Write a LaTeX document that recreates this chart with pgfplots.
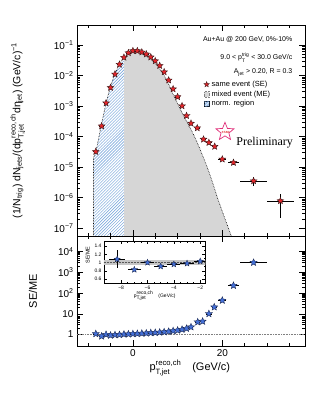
\documentclass[border=0pt]{standalone}
\usepackage{amsmath}
\usepackage{fontspec}
\setmainfont{Liberation Sans}
\newfontfamily\prelimfont{Liberation Serif}
\usepackage{pgfplots}
\pgfplotsset{compat=1.18}
\usepackage{pgfplotstable}
\usetikzlibrary{patterns,shapes.geometric}

\definecolor{seRed}{HTML}{E3262B}
\definecolor{seEdge}{HTML}{3A1A1A}
\definecolor{rBlue}{HTML}{4470D8}
\definecolor{rEdge}{HTML}{1C2A55}
\definecolor{meGray}{HTML}{D6D6D6}
\definecolor{hatchBlue}{HTML}{6A9CD8}
\definecolor{starPink}{HTML}{E0307A}

% filled five-point star
\pgfdeclareplotmark{fstar}{%
  \pgfpathmoveto{\pgfpointpolar{90}{\pgfplotmarksize}}%
  \pgfpathlineto{\pgfpointpolar{126}{0.45\pgfplotmarksize}}%
  \pgfpathlineto{\pgfpointpolar{162}{\pgfplotmarksize}}%
  \pgfpathlineto{\pgfpointpolar{198}{0.45\pgfplotmarksize}}%
  \pgfpathlineto{\pgfpointpolar{234}{\pgfplotmarksize}}%
  \pgfpathlineto{\pgfpointpolar{270}{0.45\pgfplotmarksize}}%
  \pgfpathlineto{\pgfpointpolar{306}{\pgfplotmarksize}}%
  \pgfpathlineto{\pgfpointpolar{342}{0.45\pgfplotmarksize}}%
  \pgfpathlineto{\pgfpointpolar{18}{\pgfplotmarksize}}%
  \pgfpathlineto{\pgfpointpolar{54}{0.45\pgfplotmarksize}}%
  \pgfpathclose
  \pgfusepathqfillstroke}

\newcommand{\ptjet}{\text{p}^{\text{reco,ch}}_{\text{T,jet}}}

% same event spectrum
\pgfplotstableread{
x y ex eyp eym
-8.3 3.2e-5 0.6 0 0
-7 2.2e-4 0.5 0 0
-6 1.25e-3 0.5 0 0
-5 4.0e-3 0.5 0 0
-4 1.1e-2 0.5 0 0
-3 2.3e-2 0.5 0 0
-2 3.9e-2 0.5 0 0
-1 5.5e-2 0.5 0 0
0 6.4e-2 0.5 0 0
1 6.4e-2 0.5 0 0
2 5.8e-2 0.5 0 0
3 5.0e-2 0.5 0 0
4 4.0e-2 0.5 0 0
5 3.0e-2 0.5 0 0
6 2.1e-2 0.5 0 0
7 1.3e-2 0.5 0 0
8 7.0e-3 0.5 0 0
9 3.6e-3 0.5 0 0
10 2.0e-3 0.5 0 0
11 1.0e-3 0.5 0 0
12 4.8e-4 0.5 0 0
13 2.7e-4 0.5 0 0
14.4 1.9e-4 0.6 0 0
15.8 8.1e-5 0.6 0 0
17 6.3e-5 0.6 0 0
18.3 4.7e-5 0.6 0 0
20 1.8e-5 0.9 2e-6 2e-6
22.5 1.4e-5 1.25 2e-6 2e-6
27 3.5e-6 3 1.1e-6 1.1e-6
33 7.8e-7 3.1 4.8e-7 5.7e-7
}\se

% mixed event spectrum (edge of the grey area)
\pgfplotstableread{
x y
-8.8 1e-9
-8.8 2e-5
-8.3 3.0e-5
-7 2.6e-4
-6 1.25e-3
-5 4.4e-3
-4 1.15e-2
-3 2.35e-2
-2 3.8e-2
-1 5.2e-2
0 5.8e-2
1 5.8e-2
2 5.1e-2
3 4.3e-2
4 3.4e-2
5 2.5e-2
6 1.65e-2
7 1.0e-2
8 5.2e-3
9 2.4e-3
10 1.2e-3
11 6.0e-4
12 3.2e-4
13 1.7e-4
14 8.5e-5
15 3.9e-5
16 1.7e-5
17 7e-6
18 2.6e-6
19 9e-7
20 3.5e-7
21 1.4e-7
22 5.6e-8
23 2.2e-8
23.5 1e-9
}\me

% normalisation region
\pgfplotstableread{
x y
-8.8 1e-9
-8.8 2e-5
-8.3 3.0e-5
-7 2.6e-4
-6 1.25e-3
-5 4.4e-3
-4 1.15e-2
-3 2.35e-2
-2 3.8e-2
-2 1e-9
}\norm

% SE/ME
\pgfplotstableread{
x y ex ey
-8.3 1.08 0.6 0.22
-7 0.83 0.5 0.03
-6 1.0 0.5 0.03
-5 0.91 0.5 0.03
-4 0.96 0.5 0.02
-3 0.98 0.5 0.02
-2 1.03 0.5 0.02
-1 1.05 0.5 0
0 1.08 0.5 0
1 1.1 0.5 0
2 1.13 0.5 0
3 1.16 0.5 0
4 1.2 0.5 0
5 1.23 0.5 0
6 1.28 0.5 0
7 1.33 0.5 0
8 1.4 0.5 0
9 1.5 0.5 0
10 1.6 0.5 0
11 1.75 0.5 0
12 1.95 0.5 0
13 2.3 0.5 0
14.5 4.0 0.6 0
15.6 4.3 0.6 0
17 10 0.6 0
18.2 21 0.6 0
20 44 0.9 0
22.5 230 1.25 0
27 2960 3 0
}\ratio

\pgfplotsset{
  rootframe/.style={
    scale only axis, tick align=inside,
    axis line style={line width=0.6pt},
    major tick length=6bp, minor tick length=3bp,
    every tick/.style={black, line width=0.5pt},
    tick label style={font=\fontsize{10}{12}\selectfont},
    error bars/error bar style={line width=0.5pt, black},
    error bars/error mark=none,
  },
}

\begin{document}
\begin{tikzpicture}
\useasboundingbox (-77bp,-158bp) rectangle (255bp,236bp);

\begin{axis}[rootframe,
  at={(0,0)}, anchor=south west, width=228bp, height=211bp,
  xmin=-12.5, xmax=38.5, ymode=log, ymin=5.5e-8, ymax=0.45,
  xtick={0,20}, minor xtick={-10,-5,5,10,15,25,30,35}, xticklabels={},
  ytick={1e-7,1e-6,1e-5,1e-4,1e-3,1e-2,1e-1},
  yticklabels={10\textsuperscript{−7},10\textsuperscript{−6},10\textsuperscript{−5},10\textsuperscript{−4},10\textsuperscript{−3},10\textsuperscript{−2},10\textsuperscript{−1}},
  ylabel={(1/N$_{\text{trig}}$) dN$_{\text{jets}}$/(d$\ptjet$dη$_{\text{jet}}$)  (GeV/c)$^{\text{−1}}$},
  ylabel style={at={(axis description cs:-0.26,0.5)}, anchor=center, font=\fontsize{10.5}{12}\selectfont},
  axis on top,
  legend style={draw=none, fill=none, at={(rel axis cs:0.556,0.745)}, anchor=north west,
    font=\fontsize{7.5}{9}\selectfont, row sep=-1.2pt, inner sep=0pt,
    /tikz/every even column/.append style={column sep=0.5pt}},
  legend cell align=left,
]
  \addplot[fill=meGray, draw=none, forget plot] table {\me};
  \addplot[fill=white, draw=none, forget plot,
    postaction={pattern=north east lines, pattern color=hatchBlue}] table {\norm};
  \addplot[densely dotted, black, line width=0.6pt, forget plot] table {\me};
  \addplot[only marks, mark=fstar, mark size=3.5, forget plot,
    mark options={fill=seRed, draw=seEdge, line width=0.4pt},
    error bars/.cd, x dir=both, x explicit, y dir=both, y explicit]
    table[x=x, y=y, x error=ex, y error plus=eyp, y error minus=eym] {\se};

  \addlegendimage{legend image code/.code={%
    \draw[mark=fstar, mark size=2.8, mark options={fill=seRed, draw=seEdge, line width=0.4pt}]
      plot coordinates {(0.1cm,0cm)};}}
  \addlegendentry{same event (SE)}
  \addlegendimage{legend image code/.code={%
    \draw[fill=meGray, draw=gray, densely dotted, line width=0.4pt] (0.02cm,-0.09cm) rectangle (0.2cm,0.09cm);}}
  \addlegendentry{mixed event (ME)}
  \addlegendimage{legend image code/.code={%
    \begin{scope}
      \clip (0.02cm,-0.09cm) rectangle (0.2cm,0.09cm);
      \foreach \s in {-0.16,-0.11,...,0.2}
        \draw[hatchBlue, line width=0.35pt] (\s cm,-0.1cm) -- ++(0.2cm,0.2cm);
    \end{scope}}}
  \addlegendentry{norm. region}

  \node[anchor=east, inner sep=0pt, font=\fontsize{7}{8}\selectfont] at (rel axis cs:0.945,0.932) {Au+Au @ 200 GeV, 0\%-10\%};
  \node[anchor=east, inner sep=0pt, font=\fontsize{7}{8}\selectfont] at (rel axis cs:0.945,0.846) {9.0 < $\text{p}^{\text{trig}}_{\text{T}}$ < 30.0 GeV/c};
  \node[anchor=east, inner sep=0pt, font=\fontsize{7}{8}\selectfont] at (rel axis cs:0.945,0.774) {A$_{\text{jet}}$ > 0.20, R = 0.3};

  \node[star, star points=5, star point ratio=2.3, draw=starPink, line width=0.7pt,
    minimum size=19bp, inner sep=0pt] at (rel axis cs:0.649,0.494) {};
  \node[font=\fontsize{3}{3}\selectfont\bfseries\itshape, text=seRed] at (rel axis cs:0.652,0.492) {STAR};
  \node[font=\prelimfont\fontsize{12}{14}\selectfont] at (rel axis cs:0.823,0.444) {Preliminary};
\end{axis}

\begin{axis}[rootframe,
  at={(0,0)}, anchor=north west, width=228bp, height=110bp,
  xmin=-12.5, xmax=38.5, ymode=log, ymin=0.28, ymax=5.6e4,
  xtick={0,20}, minor xtick={-10,-5,5,10,15,25,30,35}, xticklabels={0,20},
  ytick={1,10,100,1000,10000},
  yticklabels={1,10,10\textsuperscript{2},10\textsuperscript{3},10\textsuperscript{4}},
  ylabel={SE/ME},
  ylabel style={at={(axis description cs:-0.193,0.5)}, anchor=center, font=\fontsize{11}{13}\selectfont},
  xlabel={$\ptjet$\quad(GeV/c)},
  xlabel style={at={(axis description cs:0.495,-0.2)}, anchor=center, font=\fontsize{11}{13}\selectfont},
]
  \addplot[densely dotted, gray, line width=0.6pt] coordinates {(-12.5,1) (38.5,1)};
  \addplot[only marks, mark=fstar, mark size=3.7,
    mark options={fill=rBlue, draw=rEdge, line width=0.4pt},
    error bars/.cd, x dir=both, x explicit, y dir=both, y explicit]
    table[x=x, y=y, x error=ex, y error=ey] {\ratio};
\end{axis}

\begin{axis}[rootframe,
  at={(27bp,-47.3bp)}, anchor=south west, width=101.5bp, height=42.3bp,
  axis background/.style={fill=white},
  axis line style={line width=0.5pt},
  major tick length=3bp, minor tick length=1.5bp,
  xmin=-9.3, xmax=-1.6, ymin=0.5, ymax=1.52,
  xtick={-8,-6,-4,-2}, xticklabels={−8,−6,−4,−2}, minor x tick num=3,
  ytick={0.6,0.8,1,1.2,1.4}, yticklabels={0.6,0.8,1,1.2,1.4}, minor y tick num=1,
  tick label style={font=\fontsize{5}{6}\selectfont},
  xticklabel style={yshift=1bp}, yticklabel style={xshift=1bp},
  ylabel={SE/ME},
  ylabel style={at={(axis description cs:-0.16,0.67)}, anchor=center, font=\fontsize{5.5}{6}\selectfont},
  xlabel={$\ptjet$\quad(GeV/c)},
  xlabel style={at={(axis description cs:0.5,-0.3)}, anchor=center, font=\fontsize{5}{6}\selectfont},
]
  \addplot[fill=gray!45, draw=none] coordinates {(-10,0.95) (0,0.95) (0,1.05) (-10,1.05)};
  \addplot[densely dotted, gray!70!black, line width=0.5pt] coordinates {(-10,1) (0,1)};
  \addplot[only marks, mark=fstar, mark size=3.2,
    mark options={fill=rBlue, draw=rEdge, line width=0.4pt},
    restrict x to domain=-9.5:-1.8,
    error bars/.cd, x dir=both, x explicit, y dir=both, y explicit]
    table[x=x, y=y, x error=ex, y error=ey] {\ratio};
\end{axis}
\end{tikzpicture}
\end{document}
